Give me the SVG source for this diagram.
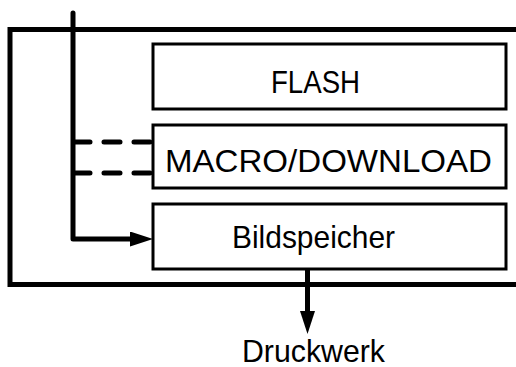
<svg xmlns="http://www.w3.org/2000/svg" width="516" height="367" viewBox="0 0 516 367">
<style>
.box{fill:#fff;stroke:#000;stroke-width:3}
.lbl{font-family:"Liberation Sans",Arial,sans-serif;font-size:32px;fill:#000}
.thick{fill:none;stroke:#000;stroke-width:5}
.dash{fill:none;stroke:#000;stroke-width:5;stroke-dasharray:16 14;stroke-linecap:round}
</style>
<defs>
<marker id="ah" markerUnits="userSpaceOnUse" markerWidth="24" markerHeight="16" refX="5" refY="7.5" orient="auto">
<path d="M0,0 L23,7.5 L0,15 Z" fill="#000"/>
</marker>
</defs>
<g id="outer"><path class="thick" d="M520,29.5 H10 V284.5 H520"/></g>
<g id="flash"><rect class="box" x="153" y="44" width="353" height="65"/><text class="lbl" x="271" y="93" textLength="89" lengthAdjust="spacingAndGlyphs">FLASH</text></g>
<g id="macro"><rect class="box" x="153" y="125" width="353" height="63"/><text class="lbl" x="165" y="172" textLength="327" lengthAdjust="spacingAndGlyphs">MACRO/DOWNLOAD</text></g>
<g id="bild"><rect class="box" x="153" y="204" width="353" height="65"/><text class="lbl" x="232" y="248" textLength="163" lengthAdjust="spacingAndGlyphs">Bildspeicher</text></g>
<g id="druck"><text class="lbl" x="242" y="362" textLength="143" lengthAdjust="spacingAndGlyphs">Druckwerk</text></g>
<g id="connectors">
<path class="thick" d="M73,13 V239 H135" stroke-linecap="round" stroke-linejoin="round" marker-end="url(#ah)"/>
<path class="dash" d="M74,142 H152"/>
<path class="dash" d="M74,173 H152"/>
<path class="thick" d="M307.5,269 V316" marker-end="url(#ah)"/>
</g>
</svg>
